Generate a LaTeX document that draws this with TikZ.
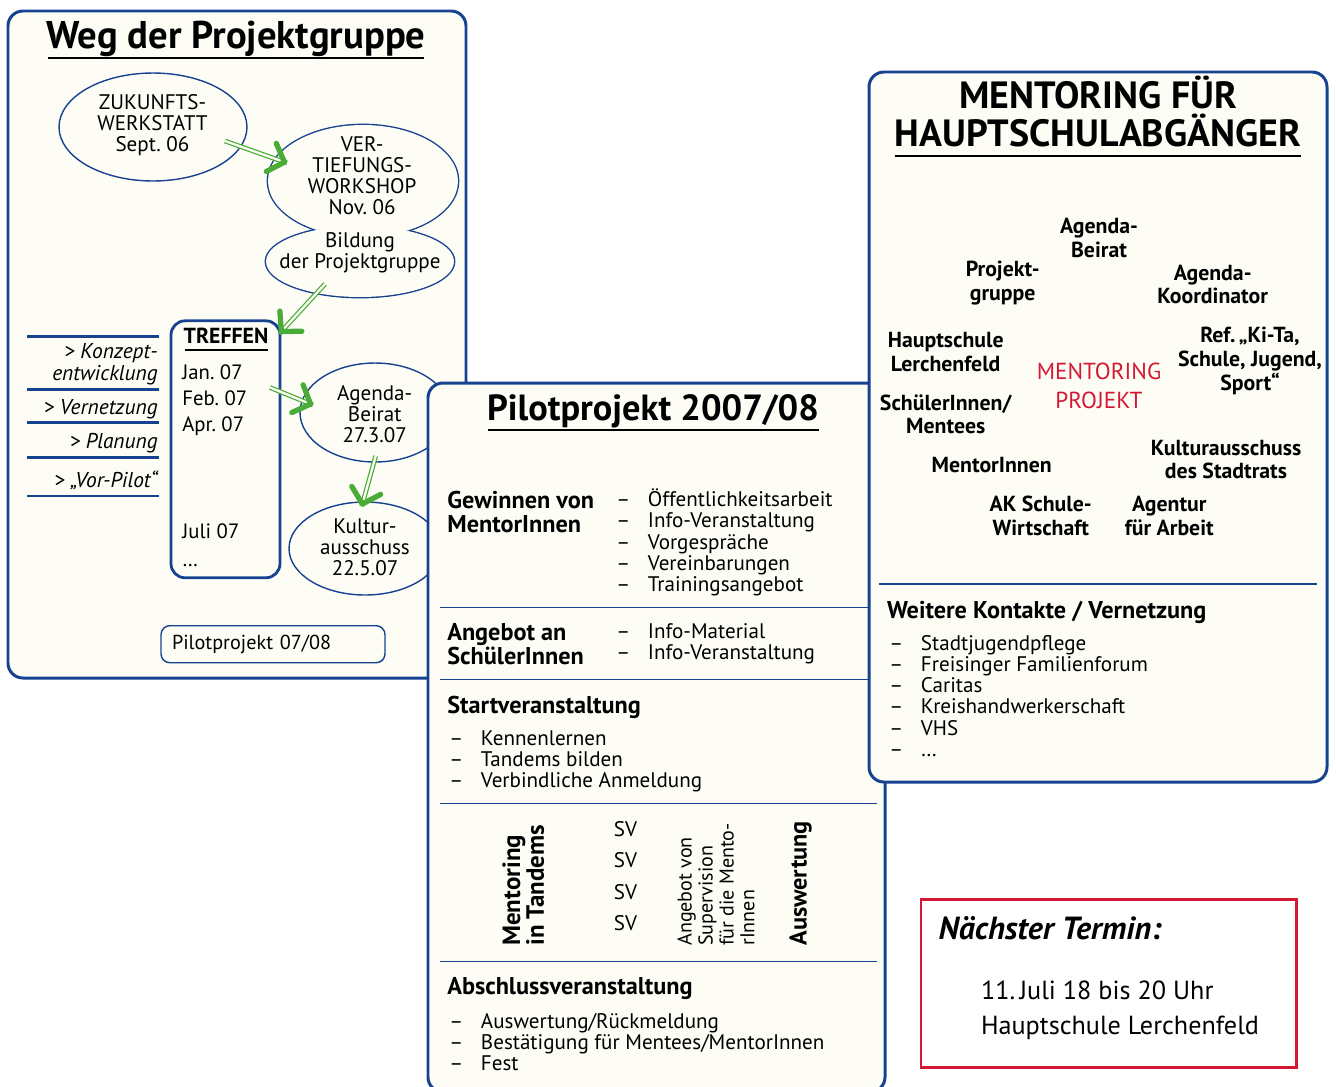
\documentclass[tikz,border=0pt]{standalone}
\usepackage{fontspec}
\setmainfont{PT Sans}
\usetikzlibrary{shapes.geometric,arrows.meta,decorations.markings}

\definecolor{rahmenblau}{RGB}{22,66,144}
\definecolor{papier}{RGB}{253,253,246}
\definecolor{pfeilgruen}{RGB}{74,172,54}
\definecolor{terminrot}{RGB}{212,24,52}

% Zeilenbloecke, Grundlinie = erste Zeile
\newcommand{\linksblock}[1]{\vtop{\lineskiplimit=-\maxdimen\halign{##\hfil\cr#1\crcr}}}
\newcommand{\mitteblock}[1]{\vtop{\lineskiplimit=-\maxdimen\halign{\hfil##\hfil\cr#1\crcr}}}
\newcommand{\rechtsblock}[1]{\vtop{\lineskiplimit=-\maxdimen\halign{\hfil##\cr#1\crcr}}}
\newcommand{\strichblock}[1]{\vtop{\lineskiplimit=-\maxdimen\halign{\hbox to 18pt{##\hfil}&##\hfil\cr#1\crcr}}}

\tikzset{
  panel/.style={draw=rahmenblau, line width=1.7pt, fill=papier, rounded corners=8.5pt},
  titel/.style={anchor=base, inner sep=0pt, font=\fontsize{22}{24}\selectfont\bfseries},
  unterstrich/.style={draw=black, line width=1.1pt},
  trenner/.style={draw=rahmenblau, line width=0.8pt},
  seitenlinie/.style={draw=rahmenblau, line width=1.6pt},
  blase/.style={ellipse, draw=rahmenblau, line width=0.8pt, fill=papier, inner sep=0pt},
  wolkenrand/.style={ellipse, draw=rahmenblau, line width=1.6pt, inner sep=0pt},
  wolke/.style={ellipse, fill=papier, inner sep=0pt},
  blasentext/.style={anchor=base, inner sep=0pt, font=\fontsize{12}{12}\selectfont},
  seitentext/.style={anchor=base east, inner sep=0pt, font=\fontsize{12.2}{12.9}\selectfont\itshape},
  datum/.style={anchor=base west, inner sep=0pt, font=\fontsize{11.8}{12}\selectfont},
  treffenkasten/.style={draw=rahmenblau, line width=1.6pt, rounded corners=8pt, inner sep=0pt},
  kasten/.style={draw=rahmenblau, line width=0.8pt, rounded corners=5pt, fill=papier,
    minimum width=4.48cm, minimum height=0.74cm, text width=4.04cm, align=left,
    inner xsep=0.22cm, inner ysep=0pt, font=\fontsize{11.5}{12}\selectfont},
  kopf/.style={anchor=base west, inner sep=0pt, font=\fontsize{13.8}{13.7}\selectfont\bfseries},
  liste/.style={anchor=base west, inner sep=0pt, font=\fontsize{12}{12.1}\selectfont},
  partner/.style={anchor=base, inner sep=0pt, font=\fontsize{12.4}{13.6}\selectfont\bfseries},
  pfeil/.style={draw=pfeilgruen, line width=0.7pt, double=papier, double distance=1.3pt,
    postaction={decorate, decoration={markings, mark=at position 1 with
      {\arrow{Straight Barb[color=pfeilgruen, line width=3pt, length=8pt, width=17pt, round]}}}}},
  terminkasten/.style={draw=terminrot, line width=1.5pt, fill=white, inner sep=0pt}
}

\begin{document}
\begin{tikzpicture}[x=0.02cm, y=-0.02cm]
\useasboundingbox (0,0) rectangle (1336,1086);

% Weg der Projektgruppe
\draw[panel] (8,11) rectangle (466,678);
\node[titel] (wegtitel) at (236,48) {Weg der Projektgruppe};
\draw[unterstrich] (48,58) -- (424,58);

% Blasen
\node[blase, minimum width=3.76cm, minimum height=2.16cm] (zw) at (153,127) {};
\node[blasentext] (zwtext) at (152.5,109.3) {\mitteblock{ZUKUNFTS-\cr WERKSTATT\cr Sept.~06}};
\node[wolkenrand, minimum width=3.8cm, minimum height=2.24cm] (vtrand) at (363,181) {};
\node[wolkenrand, minimum width=3.76cm, minimum height=1.42cm] (birand) at (360,261.5) {};
\node[wolke, minimum width=3.8cm, minimum height=2.24cm] (vt) at (vtrand) {};
\node[wolke, minimum width=3.76cm, minimum height=1.42cm] (bi) at (birand) {};
\node[blasentext] (vttext) at (362.2,151.7) {\mitteblock{VER-\cr TIEFUNGS-\cr WORKSHOP\cr Nov.~06}};
\node[blasentext] (bitext) at (360,247.5) {\mitteblock{Bildung\cr der Projektgruppe}};
\node[blase, minimum width=3.0cm, minimum height=1.98cm] (ag) at (375,412.5) {};
\node[blasentext] (agtext) at (374.7,400) {\mitteblock{Agenda-\cr Beirat\cr 27.3.07}};
\node[blase, minimum width=3.04cm, minimum height=1.86cm] (ku) at (365,548.5) {};
\node[blasentext] (kutext) at (365,533.3) {\mitteblock{Kultur-\cr ausschuss\cr 22.5.07}};

% Treffen
\node[treffenkasten, minimum width=2.18cm, minimum height=5.14cm] (treffen) at (225.5,449.3) {};
\node[anchor=base, inner sep=0pt, font=\fontsize{12.4}{12}\selectfont\bfseries] (treffentitel) at (226,343.3) {TREFFEN};
\draw[unterstrich] (185,350) -- (268,350);
\node[datum] (jan) at (182,379) {Jan.~07};
\node[datum] (feb) at (182,405) {Feb.~07};
\node[datum] (apr) at (182,431.7) {Apr.~07};
\node[datum] (jul) at (182,538.3) {Juli 07};
\node[datum] (weiter) at (182,566) {\dots};

% Seitenspalte
\draw[seitenlinie] (27,336.7) -- (159,336.7);
\draw[seitenlinie] (27,389.3) -- (159,389.3);
\draw[seitenlinie] (27,422.3) -- (159,422.3);
\draw[seitenlinie] (27,457.3) -- (159,457.3);
\draw[seitenlinie] (27,496) -- (159,496);
\node[seitentext] (konzept) at (158,358.3) {\rechtsblock{> Konzept-\cr entwicklung}};
\node[seitentext] (vernetzung) at (158,414.3) {> Vernetzung};
\node[seitentext] (planung) at (158,448.3) {> Planung};
\node[seitentext] (vorpilot) at (158,487.7) {> „Vor-Pilot“};

\node[kasten] (pilotkasten) at (273,644.2) {Pilotprojekt 07/08};

% Pfeile
\coordinate (p1a) at (225,141);
\coordinate (p1b) at (287,163);
\coordinate (p2a) at (325,284);
\coordinate (p2b) at (279.5,333.5);
\coordinate (p3a) at (270,387.5);
\coordinate (p3b) at (313,405);
\coordinate (p4a) at (375.7,456);
\coordinate (p4b) at (361.7,506.5);
\draw[pfeil] (p1a) -- (p1b);
\draw[pfeil] (p2a) -- (p2b);
\draw[pfeil] (p3a) -- (p3b);
\draw[pfeil] (p4a) -- (p4b);

% Pilotprojekt 2007/08
\draw[panel] (428,383) rectangle (885,1092);
\node[titel, font=\fontsize{20.7}{24}\selectfont\bfseries] (pilottitel) at (653,420) {Pilotprojekt 2007/08};
\draw[unterstrich] (488,430) -- (819,430);

\node[kopf] (gewinnen) at (447,508.3) {\linksblock{Gewinnen von\cr MentorInnen}};
\node[liste] (gewliste) at (616,506.7) {\strichblock{–&Öffentlichkeitsarbeit\cr –&Info-Veranstaltung\cr –&Vorgespräche\cr –&Vereinbarungen\cr –&Trainingsangebot}};
\draw[trenner] (440,607.3) -- (877,607.3);

\node[kopf] (angebot) at (447,640.7) {\linksblock{Angebot an\cr SchülerInnen}};
\node[liste] (angliste) at (616,638.3) {\strichblock{–&Info-Material\cr –&Info-Veranstaltung}};
\draw[trenner] (440,679.7) -- (877,679.7);

\node[kopf] (start) at (447,713) {Startveranstaltung};
\node[liste] (startliste) at (449,745) {\strichblock{–&Kennenlernen\cr –&Tandems bilden\cr –&Verbindliche Anmeldung}};
\draw[trenner] (440,803.3) -- (877,803.3);

\node[kopf, rotate=90, font=\fontsize{14.2}{13.6}\selectfont\bfseries] (tandems) at (520,946) {\linksblock{Mentoring\cr in Tandems}};
\node[anchor=base, inner sep=0pt, font=\fontsize{12}{18}\selectfont] (sv) at (625.5,836) {\mitteblock{SV\cr SV\cr SV\cr SV}};
\node[liste, rotate=90, font=\fontsize{11.4}{11.9}\selectfont] (supervision) at (691.7,946) {\linksblock{Angebot von\cr Supervision\cr für die Mento-\cr rInnen}};
\node[kopf, rotate=90, font=\fontsize{13.8}{13.6}\selectfont\bfseries] (auswertung) at (806.7,946) {Auswertung};
\draw[trenner] (440,961.7) -- (877,961.7);

\node[kopf] (abschluss) at (447,994) {Abschlussveranstaltung};
\node[liste] (abliste) at (449,1028.3) {\strichblock{–&Auswertung/Rückmeldung\cr –&Bestätigung für Mentees/MentorInnen\cr –&Fest}};

% Mentoring fuer Hauptschulabgaenger
\draw[panel] (869,72) rectangle (1327,782);
\node[titel, font=\fontsize{21.6}{21.8}\selectfont\bfseries] (mentitel) at (1098,108.3) {\mitteblock{MENTORING FÜR\cr HAUPTSCHULABGÄNGER}};
\draw[unterstrich] (895,156) -- (1301,156);

\node[partner] (beirat) at (1099,233.3) {\mitteblock{Agenda-\cr Beirat}};
\node[partner] (projektgruppe) at (1002.7,276.7) {\mitteblock{Projekt-\cr gruppe}};
\node[partner] (koordinator) at (1212.7,280) {\mitteblock{Agenda-\cr Koordinator}};
\node[partner] (hauptschule) at (945.7,347.3) {\mitteblock{Hauptschule\cr Lerchenfeld}};
\node[partner] (referat) at (1250,342.7) {\mitteblock{Ref.\,„Ki-Ta,\cr Schule, Jugend,\cr Sport“}};
\node[partner] (mentees) at (945.7,410) {\mitteblock{SchülerInnen/\cr Mentees}};
\node[partner] (mentoren) at (991.7,472.7) {MentorInnen};
\node[partner] (kulturausschuss) at (1226,455) {\mitteblock{Kulturausschuss\cr des Stadtrats}};
\node[partner] (akschule) at (1040.7,511.7) {\mitteblock{AK Schule-\cr Wirtschaft}};
\node[partner] (agentur) at (1169.3,511.7) {\mitteblock{Agentur\cr für Arbeit}};
\node[anchor=base, inner sep=0pt, text=terminrot, font=\fontsize{13.2}{16.4}\selectfont] (projektmitte) at (1099,379.3) {\mitteblock{MENTORING\cr PROJEKT}};

\draw[trenner] (879,584) -- (1317,584);
\node[kopf] (kontakte) at (886.7,618.3) {Weitere Kontakte / Vernetzung};
\node[liste] (kontaktliste) at (889,650) {\strichblock{–&Stadtjugendpflege\cr –&Freisinger Familienforum\cr –&Caritas\cr –&Kreishandwerkerschaft\cr –&VHS\cr –&\dots}};

% Naechster Termin
\node[terminkasten, minimum width=7.51cm, minimum height=3.36cm] (termin) at (1108.8,983.3) {};
\node[anchor=base west, inner sep=0pt, font=\fontsize{18.2}{18}\selectfont\bfseries\itshape] (termintitel) at (938.3,939.3) {Nächster Termin:};
\node[anchor=base west, inner sep=0pt, font=\fontsize{14.9}{20.2}\selectfont] (termintext) at (980.7,999.3) {\linksblock{11.\,Juli 18 bis 20 Uhr\cr Hauptschule Lerchenfeld}};
\end{tikzpicture}
\end{document}
